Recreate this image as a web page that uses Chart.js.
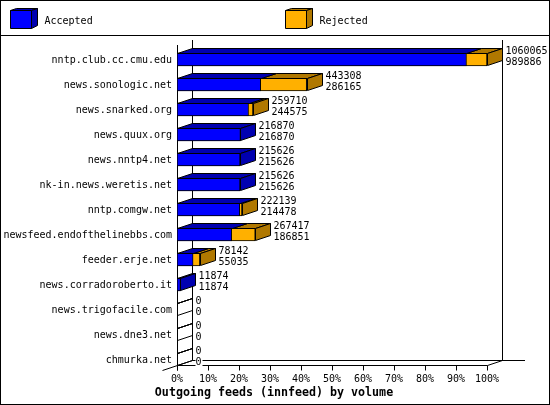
<!DOCTYPE html>
<html>
<head>
<meta charset="utf-8">
<title>Outgoing feeds (innfeed) by volume</title>
<script src="https://cdn.jsdelivr.net/npm/chart.js@4"></script>
<style>
html, body { margin: 0; padding: 0; background: #fff; }
#wrap { width: 550px; height: 405px; }
canvas { display: block; }
</style>
</head>
<body>
<div id="wrap"><canvas id="feeds-chart" width="550" height="405"></canvas></div>
<script>
var servers = ['nntp.club.cc.cmu.edu', 'news.sonologic.net', 'news.snarked.org', 'news.quux.org', 'news.nntp4.net', 'nk-in.news.weretis.net', 'nntp.comgw.net', 'newsfeed.endofthelinebbs.com', 'feeder.erje.net', 'news.corradoroberto.it', 'news.trigofacile.com', 'news.dne3.net', 'chmurka.net'];
var offered = [1060065, 443308, 259710, 216870, 215626, 215626, 222139, 267417, 78142, 11874, 0, 0, 0];
var accepted = [989886, 286165, 244575, 216870, 215626, 215626, 214478, 186851, 55035, 11874, 0, 0, 0];
var chartTitle = 'Outgoing feeds (innfeed) by volume';

var FONT = '"DejaVu Sans Mono", "Liberation Mono", monospace';
var DX = 15, DY = 5;

function toPercent(values) {
    return values.map(function (v) { return v / offered[0] * 100; });
}

function px(v) {
    return Math.round(v) + 0.5;
}

function poly(ctx, points, fill) {
    ctx.beginPath();
    ctx.moveTo(points[0][0], points[0][1]);
    for (var i = 1; i < points.length; i++) ctx.lineTo(points[i][0], points[i][1]);
    ctx.closePath();
    if (fill) { ctx.fillStyle = fill; ctx.fill(); }
    ctx.stroke();
}

function line(ctx, x1, y1, x2, y2) {
    ctx.beginPath();
    ctx.moveTo(x1, y1);
    ctx.lineTo(x2, y2);
    ctx.stroke();
}

function legendBox(ctx, x, front, dark) {
    poly(ctx, [[x, 10.5], [x + 6, 8.5], [x + 27, 8.5], [x + 21, 10.5]], dark);
    poly(ctx, [[x + 21, 10.5], [x + 27, 8.5], [x + 27, 25.5], [x + 21, 28.5]], dark);
    poly(ctx, [[x, 10.5], [x + 21, 10.5], [x + 21, 28.5], [x, 28.5]], front);
}

// walls, floor, frame and legend go under the bars
var backdrop = {
    id: 'backdrop',
    beforeDatasetsDraw: function (chart) {
        var ctx = chart.ctx;
        var xs = chart.scales.x;
        var left = px(xs.left), right = px(xs.right);
        var floor = 365.5;
        ctx.save();
        ctx.strokeStyle = '#000';
        ctx.lineWidth = 1;
        ctx.strokeRect(0.5, 0.5, 549, 404);
        line(ctx, 0, 35.5, 550, 35.5);

        line(ctx, left + DX, 40, left + DX, floor - DY);
        line(ctx, right + DX, 40, right + DX, floor - DY);
        line(ctx, left + DX, floor - DY, 525, floor - DY);
        line(ctx, left, 45, left, floor + DY);
        line(ctx, left, floor, right, floor);
        line(ctx, left + DX, floor - DY, left - DX, floor + DY);
        line(ctx, right, floor, right + DX, floor - DY);
        xs.ticks.forEach(function (t) {
            var x = px(xs.getPixelForValue(t.value));
            line(ctx, x, floor, x, floor + DY);
        });

        legendBox(ctx, 10.5, '#0000ff', '#0000b0');
        legendBox(ctx, 285.5, '#ffb000', '#b07800');
        ctx.fillStyle = '#000';
        ctx.font = '10px ' + FONT;
        ctx.textBaseline = 'middle';
        ctx.fillText(chart.data.datasets[0].label, 44.5, 21);
        ctx.fillText(chart.data.datasets[1].label, 319.5, 21);
        ctx.font = 'bold 11.65px ' + FONT;
        ctx.textAlign = 'center';
        ctx.fillText(chartTitle, 274, 393);
        ctx.restore();
    },
    afterDatasetsDraw: function (chart) {
        var ctx = chart.ctx;
        var blue = chart.getDatasetMeta(0).data;
        var orange = chart.getDatasetMeta(1).data;
        ctx.save();
        ctx.strokeStyle = '#000';
        ctx.lineWidth = 1;
        ctx.font = '10px ' + FONT;
        ctx.textBaseline = 'middle';
        servers.forEach(function (name, i) {
            var x0 = px(chart.scales.x.left);
            var xa = px(blue[i].x);
            var xo = px(orange[i].x);
            var top = blue[i].y - 6;
            var bot = blue[i].y + 6;
            var sideFill = null;
            if (offered[i] > accepted[i]) sideFill = '#b07800';
            else if (offered[i] > 0) sideFill = '#0000b0';
            if (xo > xa) {
                poly(ctx, [[xa, top], [xa + DX, top - DY], [xo + DX, top - DY], [xo, top]], '#b07800');
            }
            poly(ctx, [[x0, top], [x0 + DX, top - DY], [xa + DX, top - DY], [xa, top]], '#0000b0');
            poly(ctx, [[xo, top], [xo + DX, top - DY], [xo + DX, bot - DY], [xo, bot]], sideFill);

            var labelX = xo + 18;
            [[offered[i], blue[i].y - 8.5], [accepted[i], blue[i].y + 2.5]].forEach(function (row) {
                var text = String(row[0]);
                ctx.fillStyle = '#fff';
                ctx.fillRect(labelX, row[1] - 5, ctx.measureText(text).width + 1, 9);
                ctx.fillStyle = '#000';
                ctx.fillText(text, labelX, row[1]);
            });
        });
        ctx.restore();
    }
};

function drawFeedsChart() {
    var ctx = document.getElementById('feeds-chart').getContext('2d');
    var chart = new Chart(ctx, {
        type: 'bar',
        data: {
            labels: servers,
            datasets: [{
                label: 'Accepted',
                data: toPercent(accepted),
                backgroundColor: '#0000ff'
            }, {
                label: 'Rejected',
                data: toPercent(offered),
                backgroundColor: '#ffb000'
            }]
        },
        options: {
            indexAxis: 'y',
            responsive: false,
            animation: false,
            devicePixelRatio: 1,
            layout: { padding: { top: 47, right: 63, bottom: 0, left: 0 } },
            datasets: {
                bar: {
                    grouped: false,
                    barThickness: 13,
                    borderColor: '#000',
                    borderWidth: 1,
                    borderSkipped: false
                }
            },
            plugins: {
                legend: { display: false },
                title: { display: false },
                tooltip: { enabled: false }
            },
            scales: {
                x: {
                    min: 0,
                    max: 100,
                    grid: { display: false, drawTicks: false },
                    border: { display: false },
                    afterFit: function (scale) { scale.height = 33; },
                    ticks: {
                        stepSize: 10,
                        padding: 1,
                        maxRotation: 0,
                        color: '#000',
                        font: { family: FONT, size: 10 },
                        callback: function (value) { return value + '%'; }
                    }
                },
                y: {
                    grid: { display: false, drawTicks: false },
                    border: { display: false },
                    afterFit: function (scale) { scale.width = 177; },
                    ticks: {
                        padding: 5,
                        labelOffset: 1,
                        autoSkip: false,
                        color: '#000',
                        font: { family: FONT, size: 10 }
                    }
                }
            }
        },
        plugins: [backdrop]
    });
}

drawFeedsChart();
</script>
</body>
</html>
